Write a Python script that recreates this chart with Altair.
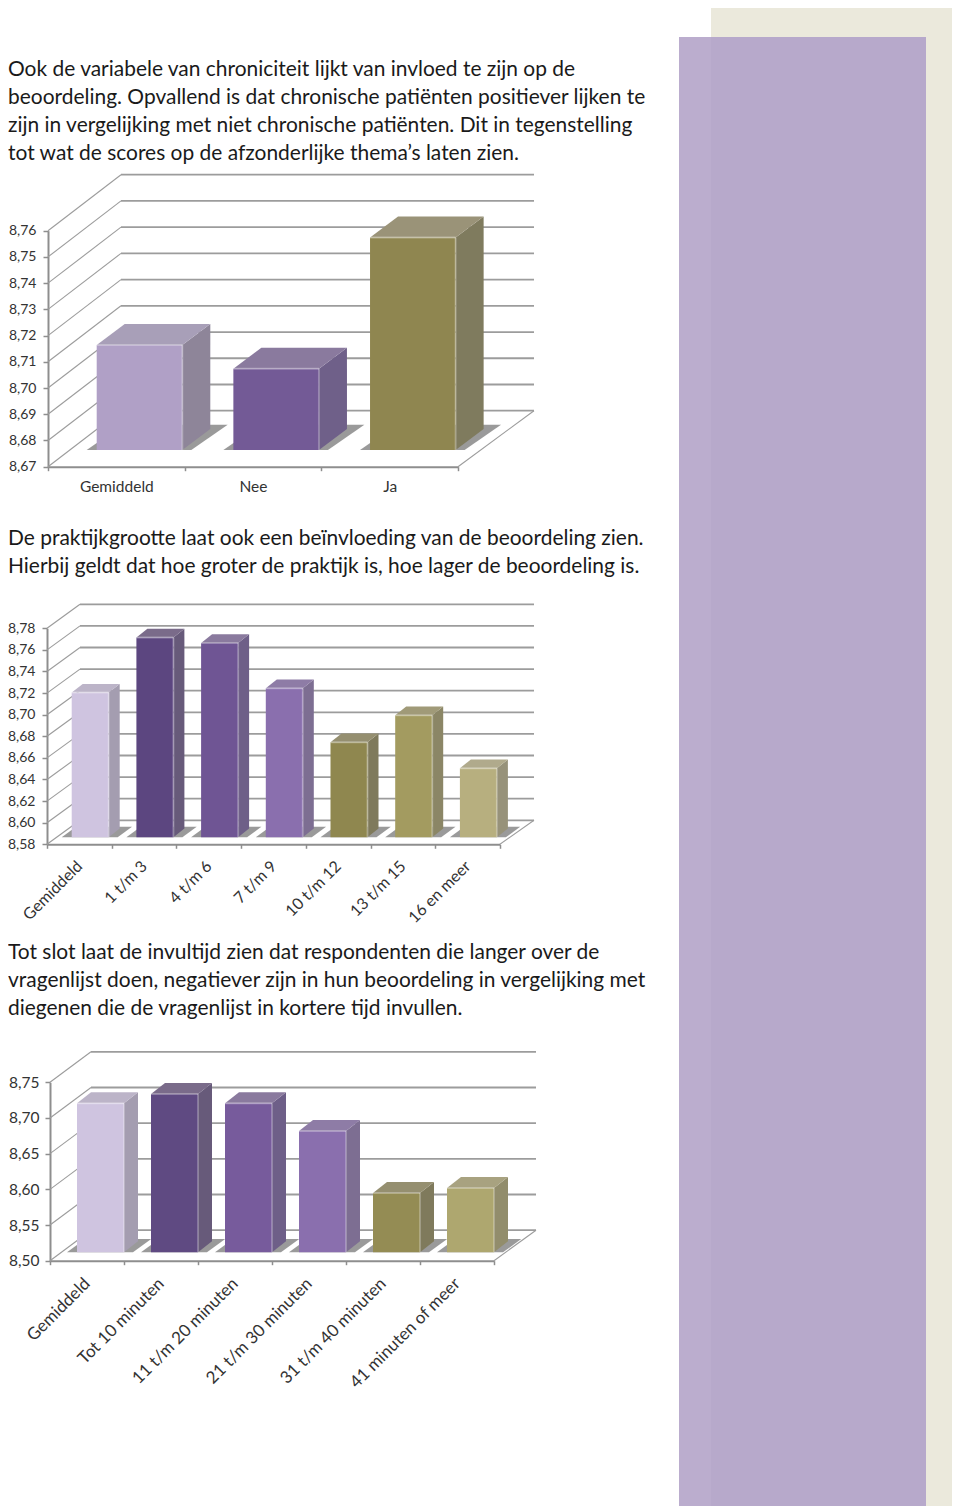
import altair as alt
import pandas as pd

# ---------- data ----------
para1 = ["Ook de variabele van chroniciteit lijkt van invloed te zijn op de",
         "beoordeling. Opvallend is dat chronische patiënten positiever lijken te",
         "zijn in vergelijking met niet chronische patiënten. Dit in tegenstelling",
         "tot wat de scores op de afzonderlijke thema’s laten zien."]
para2 = ["De praktijkgrootte laat ook een beïnvloeding van de beoordeling zien.",
         "Hierbij geldt dat hoe groter de praktijk is, hoe lager de beoordeling is."]
para3 = ["Tot slot laat de invultijd zien dat respondenten die langer over de",
         "vragenlijst doen, negatiever zijn in hun beoordeling in vergelijking met",
         "diegenen die de vragenlijst in kortere tijd invullen."]

cats1 = ["Gemiddeld", "Nee", "Ja"]
vals1 = [8.710, 8.701, 8.751]
cols1 = ["#b0a0c6", "#735a96", "#8f8650"]
tops1 = ["#a89fb8", "#8a7a9e", "#9a9378"]
side1 = ["#8e8599", "#6f6089", "#7f7b5e"]
ticks1 = [8.67, 8.68, 8.69, 8.70, 8.71, 8.72, 8.73, 8.74, 8.75, 8.76]

cats2 = ["Gemiddeld", "1 t/m 3", "4 t/m 6", "7 t/m 9", "10 t/m 12", "13  t/m 15", "16 en meer"]
vals2 = [8.714, 8.765, 8.760, 8.718, 8.668, 8.693, 8.644]
cols2 = ["#cfc4e0", "#5c4680", "#6f5594", "#8a6fae", "#8f874f", "#a39b60", "#b7af7f"]
tops2 = ["#bcb4c8", "#7a6b8a", "#8a7a9e", "#8e7ca6", "#958f70", "#a09a78", "#b0aa8c"]
side2 = ["#a49db0", "#675a7a", "#6e5f88", "#7d6e92", "#7f7a5c", "#8b8666", "#97927a"]
ticks2 = [8.58, 8.60, 8.62, 8.64, 8.66, 8.68, 8.70, 8.72, 8.74, 8.76, 8.78]

cats3 = ["Gemiddeld", "Tot 10 minuten", "11 t/m 20 minuten", "21 t/m 30 minuten", "31 t/m 40 minuten", "41 minuten of meer"]
vals3 = [8.709, 8.722, 8.709, 8.670, 8.583, 8.590]
cols3 = ["#cfc4e0", "#5f4a82", "#775b9c", "#8a6fae", "#948c54", "#aea76f"]
tops3 = ["#bcb4c8", "#7a6b8a", "#8a7a9e", "#8e7ca6", "#958f70", "#a8a280"]
side3 = ["#a49db0", "#675a7a", "#6e5f88", "#7d6e92", "#7f7a5c", "#928d6c"]
ticks3 = [8.50, 8.55, 8.60, 8.65, 8.70, 8.75]

# ---------- layout (page pixels; the page margin is removed below) ----------
M = 8
W, H = 944, 1498
TEXT_FONT = "Lato"
AXIS_FONT = "Lato"
GRID = "#9c9c9c"
AXISC = "#8e8e8e"
LABEL = "#333333"

layers = []

# sidebar
def band(x0, x1, y0, y1, color):
    return alt.Chart(pd.DataFrame({"a": [0]})).mark_rect(color=color).encode(
        x=alt.value(x0 - M), x2=alt.value(x1 - M), y=alt.value(max(y0 - M, 0)), y2=alt.value(y1 - M))

layers += [band(711, 952, 1, 1506, "#ebe9dc"),
           band(679, 711, 37, 1506, "#bbadce"),
           band(711, 926, 37, 1506, "#b7a9cb")]

# paragraphs
def para(lines, y):
    return alt.Chart(pd.DataFrame({"a": [0]})).mark_text(
        text=lines, font=TEXT_FONT, fontSize=20.95, lineHeight=28, align="left",
        baseline="middle", color="#1a1a1a").encode(x=alt.value(0), y=alt.value(y - M))

layers += [para(para1, 70), para(para2, 539), para(para3, 953)]


def plot(cats, vals, cols, tops, sides, ticks, x0, x1, ytop, ybot, back_dx, back_dy, right,
         bar_off, bar_w, bar_dx, bar_dy, base_off, angle, label_pad, label_size, num_size, num_pad):
    n = len(cats)
    ux = (x1 - x0) / n
    d0, d1 = ticks[0], ticks[-1]
    uy = (ybot - ytop) / (d1 - d0)
    xs = alt.Scale(domain=[0, n], range=[x0 - M, x1 - M], nice=False, zero=False)
    ys = alt.Scale(domain=[d0, d1], range=[ybot - M, ytop - M], nice=False, zero=False)
    X = alt.X("x:Q", scale=xs, axis=None)
    Y = alt.Y("y:Q", scale=ys, axis=None, stack=None)
    Y2 = alt.Y2("y2:Q")
    bdx, bdy = back_dx / ux, back_dy / uy
    end = (right - x0) / ux

    # wall and floor lines
    rows = []
    for k, t in enumerate(ticks):
        rows += [dict(x=0, y=t, id=f"d{k}"), dict(x=bdx, y=t + bdy, id=f"d{k}")]
    wall = alt.Chart(pd.DataFrame(rows)).mark_line(color=GRID, strokeWidth=1.1).encode(x=X, y=Y, detail="id:N")
    rows = []
    for k, t in enumerate(ticks):
        rows += [dict(x=bdx, y=t + bdy, id=f"g{k}"), dict(x=end, y=t + bdy, id=f"g{k}")]
    grid = alt.Chart(pd.DataFrame(rows)).mark_line(color=GRID, strokeWidth=1.8).encode(x=X, y=Y, detail="id:N")
    floor = alt.Chart(pd.DataFrame([dict(x=n, y=d0), dict(x=end, y=d0 + bdy)])).mark_line(
        color=GRID, strokeWidth=1.1).encode(x=X, y=Y)

    # bars
    shadow, side, top, front, hi_h, hi_v = [], [], [], [], [], []
    dxu, dyu = bar_dx / ux, bar_dy / uy
    off, wu = bar_off / ux, bar_w / ux
    base = d0 + base_off / uy
    for i, v in enumerate(vals):
        a, b = i + off, i + off + wu
        t = base + (v - d0)
        side += [dict(x=b, y=base, y2=t, c=sides[i], id=i),
                 dict(x=b + dxu, y=base + dyu, y2=t + dyu, c=sides[i], id=i)]
        top += [dict(x=a, y=t, y2=t, c=tops[i], id=i),
                dict(x=a + dxu, y=t, y2=t + dyu, c=tops[i], id=i),
                dict(x=b, y=t, y2=t + dyu, c=tops[i], id=i),
                dict(x=b + dxu, y=t + dyu, y2=t + dyu, c=tops[i], id=i)]
        front.append(dict(x=a, x2=b, y=base, y2=t, c=cols[i]))
        sa, sb = a - 10 / ux, b + 9 / ux
        sdx, sdy = dxu * 1.3, dyu * 1.2
        shadow += [dict(x=sa, y=base, y2=base, id=i),
                   dict(x=sa + sdx, y=base, y2=base + sdy, id=i),
                   dict(x=sb, y=base, y2=base + sdy, id=i),
                   dict(x=sb + sdx, y=base + sdy, y2=base + sdy, id=i)]
        hi_h.append(dict(x=a, x2=b, y=t))
        hi_v.append(dict(x=b, y=base, y2=t))

    shadow_l = alt.Chart(pd.DataFrame(shadow)).mark_area(color="#8f8f8f", opacity=0.9).encode(
        x=X, y=Y, y2=Y2, detail="id:N")
    C = alt.Color("c:N", scale=None)
    side_l = alt.Chart(pd.DataFrame(side)).mark_area().encode(x=X, y=Y, y2=Y2, color=C, detail="id:N")
    top_l = alt.Chart(pd.DataFrame(top)).mark_area().encode(x=X, y=Y, y2=Y2, color=C, detail="id:N")
    front_l = alt.Chart(pd.DataFrame(front)).mark_rect().encode(
        x=X, x2=alt.X2("x2:Q"), y=Y, y2=Y2, color=C)
    hh = alt.Chart(pd.DataFrame(hi_h)).mark_rule(strokeWidth=2, opacity=0.3, color="#ffffff").encode(
        x=X, x2=alt.X2("x2:Q"), y=Y)
    hv = alt.Chart(pd.DataFrame(hi_v)).mark_rule(strokeWidth=2, opacity=0.25, color="#ffffff").encode(
        x=X, y=Y, y2=Y2)

    # real axes, moved onto the front plane
    yaxis = alt.Chart(pd.DataFrame({"y": ticks})).mark_point(opacity=0).encode(
        y=alt.Y("y:Q", scale=ys, axis=alt.Axis(
            orient="left", offset=-(x0 - M), values=ticks, title=None, grid=False,
            labelExpr="replace(format(datum.value,'.2f'),'.',',')",
            labelFont=AXIS_FONT, labelFontSize=num_size, labelColor=LABEL, labelPadding=num_pad,
            tickSize=5, tickColor=AXISC, tickWidth=1.5, domainColor=AXISC, domainWidth=2)))
    xvals = [i * 0.5 for i in range(2 * n + 1)]
    names = "[" + ",".join('"' + c + '"' for c in cats) + "]"
    xaxis_kw = dict(
        orient="bottom", offset=-(H - (ybot - M)), values=xvals, title=None, grid=False,
        labelExpr=f"datum.value % 1 > 0 ? {names}[floor(datum.value)] : ''",
        labelFont=TEXT_FONT, labelFontSize=label_size, labelColor=LABEL, labelPadding=label_pad,
        labelOverlap=False, labelFlush=False, labelBound=False,
        tickSize=4, tickColor=AXISC, tickWidth=1.5,
        tickOpacity={"condition": {"test": "datum.value % 1 > 0", "value": 0}, "value": 1},
        domainColor=AXISC, domainWidth=2)
    if angle:
        xaxis_kw.update(labelAngle=angle, labelAlign="right", labelBaseline="middle")
    else:
        xaxis_kw.update(labelAngle=0, labelAlign="center", labelBaseline="top")
    xaxis = alt.Chart(pd.DataFrame({"x": xvals})).mark_point(opacity=0).encode(
        x=alt.X("x:Q", scale=xs, axis=alt.Axis(**xaxis_kw)))

    return [wall, grid, floor, shadow_l, side_l, top_l, front_l, hh, hv, yaxis, xaxis]


layers += plot(cats1, vals1, cols1, tops1, side1, ticks1, 48, 458, 230.7, 466.7, 73, 56, 534,
               48.7, 85.6, 28, 21, 16.7, 0, 9, 15.5, 14, 7)
layers += plot(cats2, vals2, cols2, tops2, side2, ticks2, 47, 499.9, 628.3, 844.3, 33, 24, 534,
               24.7, 37, 11, 8.7, 7, 315, 15, 16, 14, 7)
layers += plot(cats3, vals3, cols3, tops3, side3, ticks3, 50, 494, 1082.3, 1260.7, 41, 30.5, 536,
               27, 47, 14, 11, 8.4, 315, 16, 17, 15.5, 6)

chart = alt.layer(*layers).resolve_scale(x="independent", y="independent", color="independent").properties(
    width=W, height=H, padding=0, autosize=alt.AutoSizeParams(type="none")
).configure_view(stroke=None)

chart.save("out.html", embed_options={"renderer": "svg", "actions": False})
